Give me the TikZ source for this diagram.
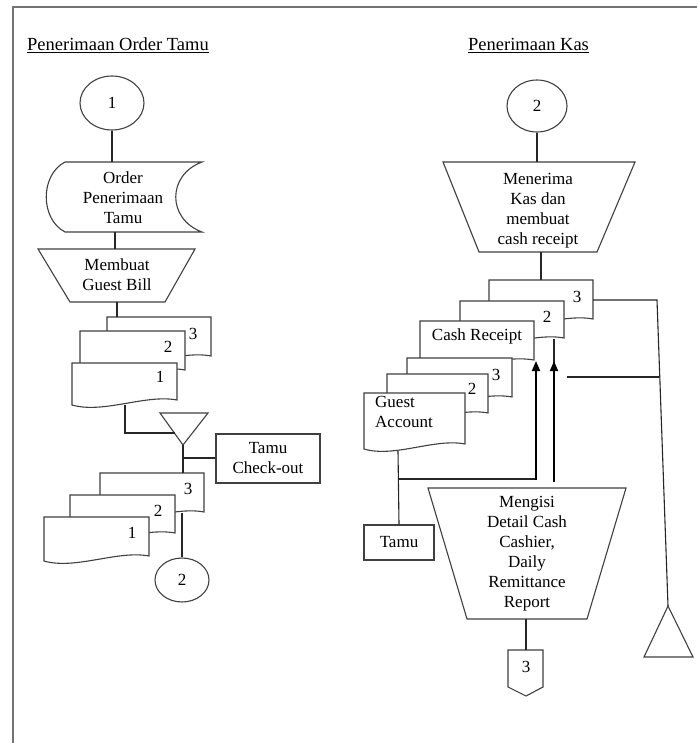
\documentclass[tikz,border=0pt]{standalone}
\usepackage{fontspec}
\setmainfont{Liberation Serif}
\usetikzlibrary{arrows.meta,shapes.geometric}
\newcommand{\mydoc}[4]{%
  \pgfmathsetmacro\mydw{#3-#1}%
  \filldraw[docsty] (#1,#2) -- (#3,#2) -- (#3,#4)
    .. controls (#3-0.3*\mydw,#4-6) and (#1+0.3*\mydw,#4+14) .. (#1,#4+5) -- cycle;}
\begin{document}
\begin{tikzpicture}[x=1pt,y=-1pt,
  line/.style={draw=black!85,line width=1.1pt},
  docsty/.style={draw=black!75,fill=white,line width=1.1pt},
  shp/.style={draw=black!75,fill=white,line width=1.1pt},
  txt/.style={font=\fontsize{17}{20}\selectfont,align=center,inner sep=0pt},
  ttl/.style={font=\fontsize{18.5}{22}\selectfont,inner sep=0pt,anchor=base west},
  conn/.style={ellipse,draw=black!75,line width=1.1pt,font=\fontsize{17}{20}\selectfont,inner sep=0pt},
  arr/.style={draw=black,line width=1.7pt,-{Triangle[length=10pt,width=8pt]}}]
\useasboundingbox (0,0) rectangle (697,743);
\fill[white] (0,0) rectangle (697,743);
% frame
\draw[black!55,line width=2pt] (13,743) -- (13,7) -- (697,7);

% titles
\node[ttl] (t1) at (27,51) {\underline{Penerimaan Order Tamu}};
\node[ttl] (t2) at (468,51) {\underline{Penerimaan Kas}};

% ===== Left column =====
\node[conn,minimum width=64pt,minimum height=54pt] (c1) at (112,103) {1};
% stored data
\draw[shp] (65,162) -- (202,162) .. controls (167,175) and (167,219) .. (202,232)
  -- (65,232) .. controls (40,219) and (40,175) .. (65,162) -- cycle;
\node[txt] (sd) at (123,198) {Order\\Penerimaan\\Tamu};
\coordinate (sdN) at (112,162);
\coordinate (sdS) at (115,232);
% trapezoid Membuat Guest Bill
\draw[shp] (38,249) -- (195,249) -- (165,302) -- (70,302) -- cycle;
\node[txt] (gb) at (117,275) {Membuat\\Guest Bill};
\coordinate (gbN) at (115,249);
\coordinate (gbS) at (117,302);
% first document stack
\mydoc{107}{317}{211}{356}
\mydoc{80}{331}{185}{370}
\mydoc{72}{363}{177}{400}
\node[txt] (d13) at (193,334) {3};
\node[txt] (d12) at (168,347) {2};
\node[txt] (d11) at (160,377) {1};
\coordinate (s1N) at (117,317);
\coordinate (s1S) at (125,405);
% offline triangle
\draw[shp] (160,413) -- (208,413) -- (183,445) -- cycle;
\coordinate (tr1W) at (175,433);
\coordinate (tr1S) at (183,445);
% Tamu Check-out
\node[draw=black!75,line width=1.1pt,minimum width=104pt,minimum height=49pt,txt] (tco) at (268,458.5) {Tamu\\Check-out};
% second document stack
\mydoc{100}{473}{204}{512}
\mydoc{70}{495}{175}{533}
\mydoc{44}{517}{149}{556}
\node[txt] (d23) at (188,489) {3};
\node[txt] (d22) at (158,511) {2};
\node[txt] (d21) at (132,533) {1};
\coordinate (s2N) at (183,473);
\coordinate (s2S) at (182,513);
\node[conn,minimum width=54pt,minimum height=44pt] (c2) at (182,580) {2};

% left connectors
\draw[line] (c1.south) -- (sdN);
\draw[line] (sdS) -- (gbN);
\draw[line] (gbS) -- (s1N);
\draw[line] (s1S) -- (125,433) -- (tr1W);
\draw[line] (tr1S) -- (s2N);
\coordinate (jn) at (183,458);
\draw[line] (jn) -- (tco.west |- jn);
\draw[line] (s2S) -- (c2.north);

% ===== Right column =====
\node[conn,minimum width=60pt,minimum height=52pt] (c2r) at (537,106) {2};
\draw[shp] (443,162) -- (635,162) -- (597,252) -- (479,252) -- cycle;
\node[txt] (mk) at (538,211) {Menerima\\Kas dan\\membuat\\cash receipt};
\coordinate (mkN) at (537,162);
\coordinate (mkS) at (541,252);
% cash receipt stack
\mydoc{489}{280}{593}{319}
\mydoc{460}{301}{564}{338}
\mydoc{420}{321}{534}{360}
\node[txt] (cr3) at (577,297) {3};
\node[txt] (cr2) at (547,317) {2};
\node[txt] (cr1) at (477,336) {Cash Receipt};
\coordinate (crN) at (541,280);
\coordinate (cr3E) at (593,300);
\coordinate (cr2S) at (554,339);
% guest account stack
\mydoc{407}{358}{512}{397}
\mydoc{387}{374}{488}{413}
\mydoc{364}{393}{465}{444}
\node[txt] (ga3) at (496,375) {3};
\node[txt] (ga2) at (472,389) {2};
\node[txt,align=left,anchor=north west] (ga1) at (375,396) {Guest\\Account};
\coordinate (gaS) at (398,451);
% Tamu box
\node[draw=black!75,line width=1.1pt,minimum width=70pt,minimum height=35pt,txt] (tamu) at (399,542.5) {Tamu};
% Mengisi trapezoid
\draw[shp] (428,488) -- (626,488) -- (587,619) -- (467,619) -- cycle;
\node[txt] (mg) at (527,554) {Mengisi\\Detail Cash\\Cashier,\\Daily\\Remittance\\Report};
\coordinate (mgS) at (526,619);
% off-page connector
\draw[shp] (508,650) -- (543,650) -- (543,687) -- (526,696) -- (508,687) -- cycle;
\node[txt] (op3) at (526,667) {3};
\coordinate (opN) at (526,650);
% file triangle (right)
\draw[shp] (668,606) -- (693,657) -- (644,657) -- cycle;
\coordinate (tr2N) at (668,606);

% right connectors
\draw[line] (c2r.south) -- (mkN);
\draw[line] (mkS) -- (crN);
\draw[line] (cr3E) -- (657,300) -- (tr2N);
\draw[line] (567,377) -- (659,377);
\coordinate (jg) at (398,479);
\draw[line] (gaS) -- (tamu.north);
\draw[line] (jg) -- (536,479);
\draw[arr] (536,479.8) -- (536,361);
\draw[line] (cr2S) -- (554,366);
\draw[arr] (554,482) -- (554,361);
\draw[line] (mgS) -- (opN);
\end{tikzpicture}
\end{document}
